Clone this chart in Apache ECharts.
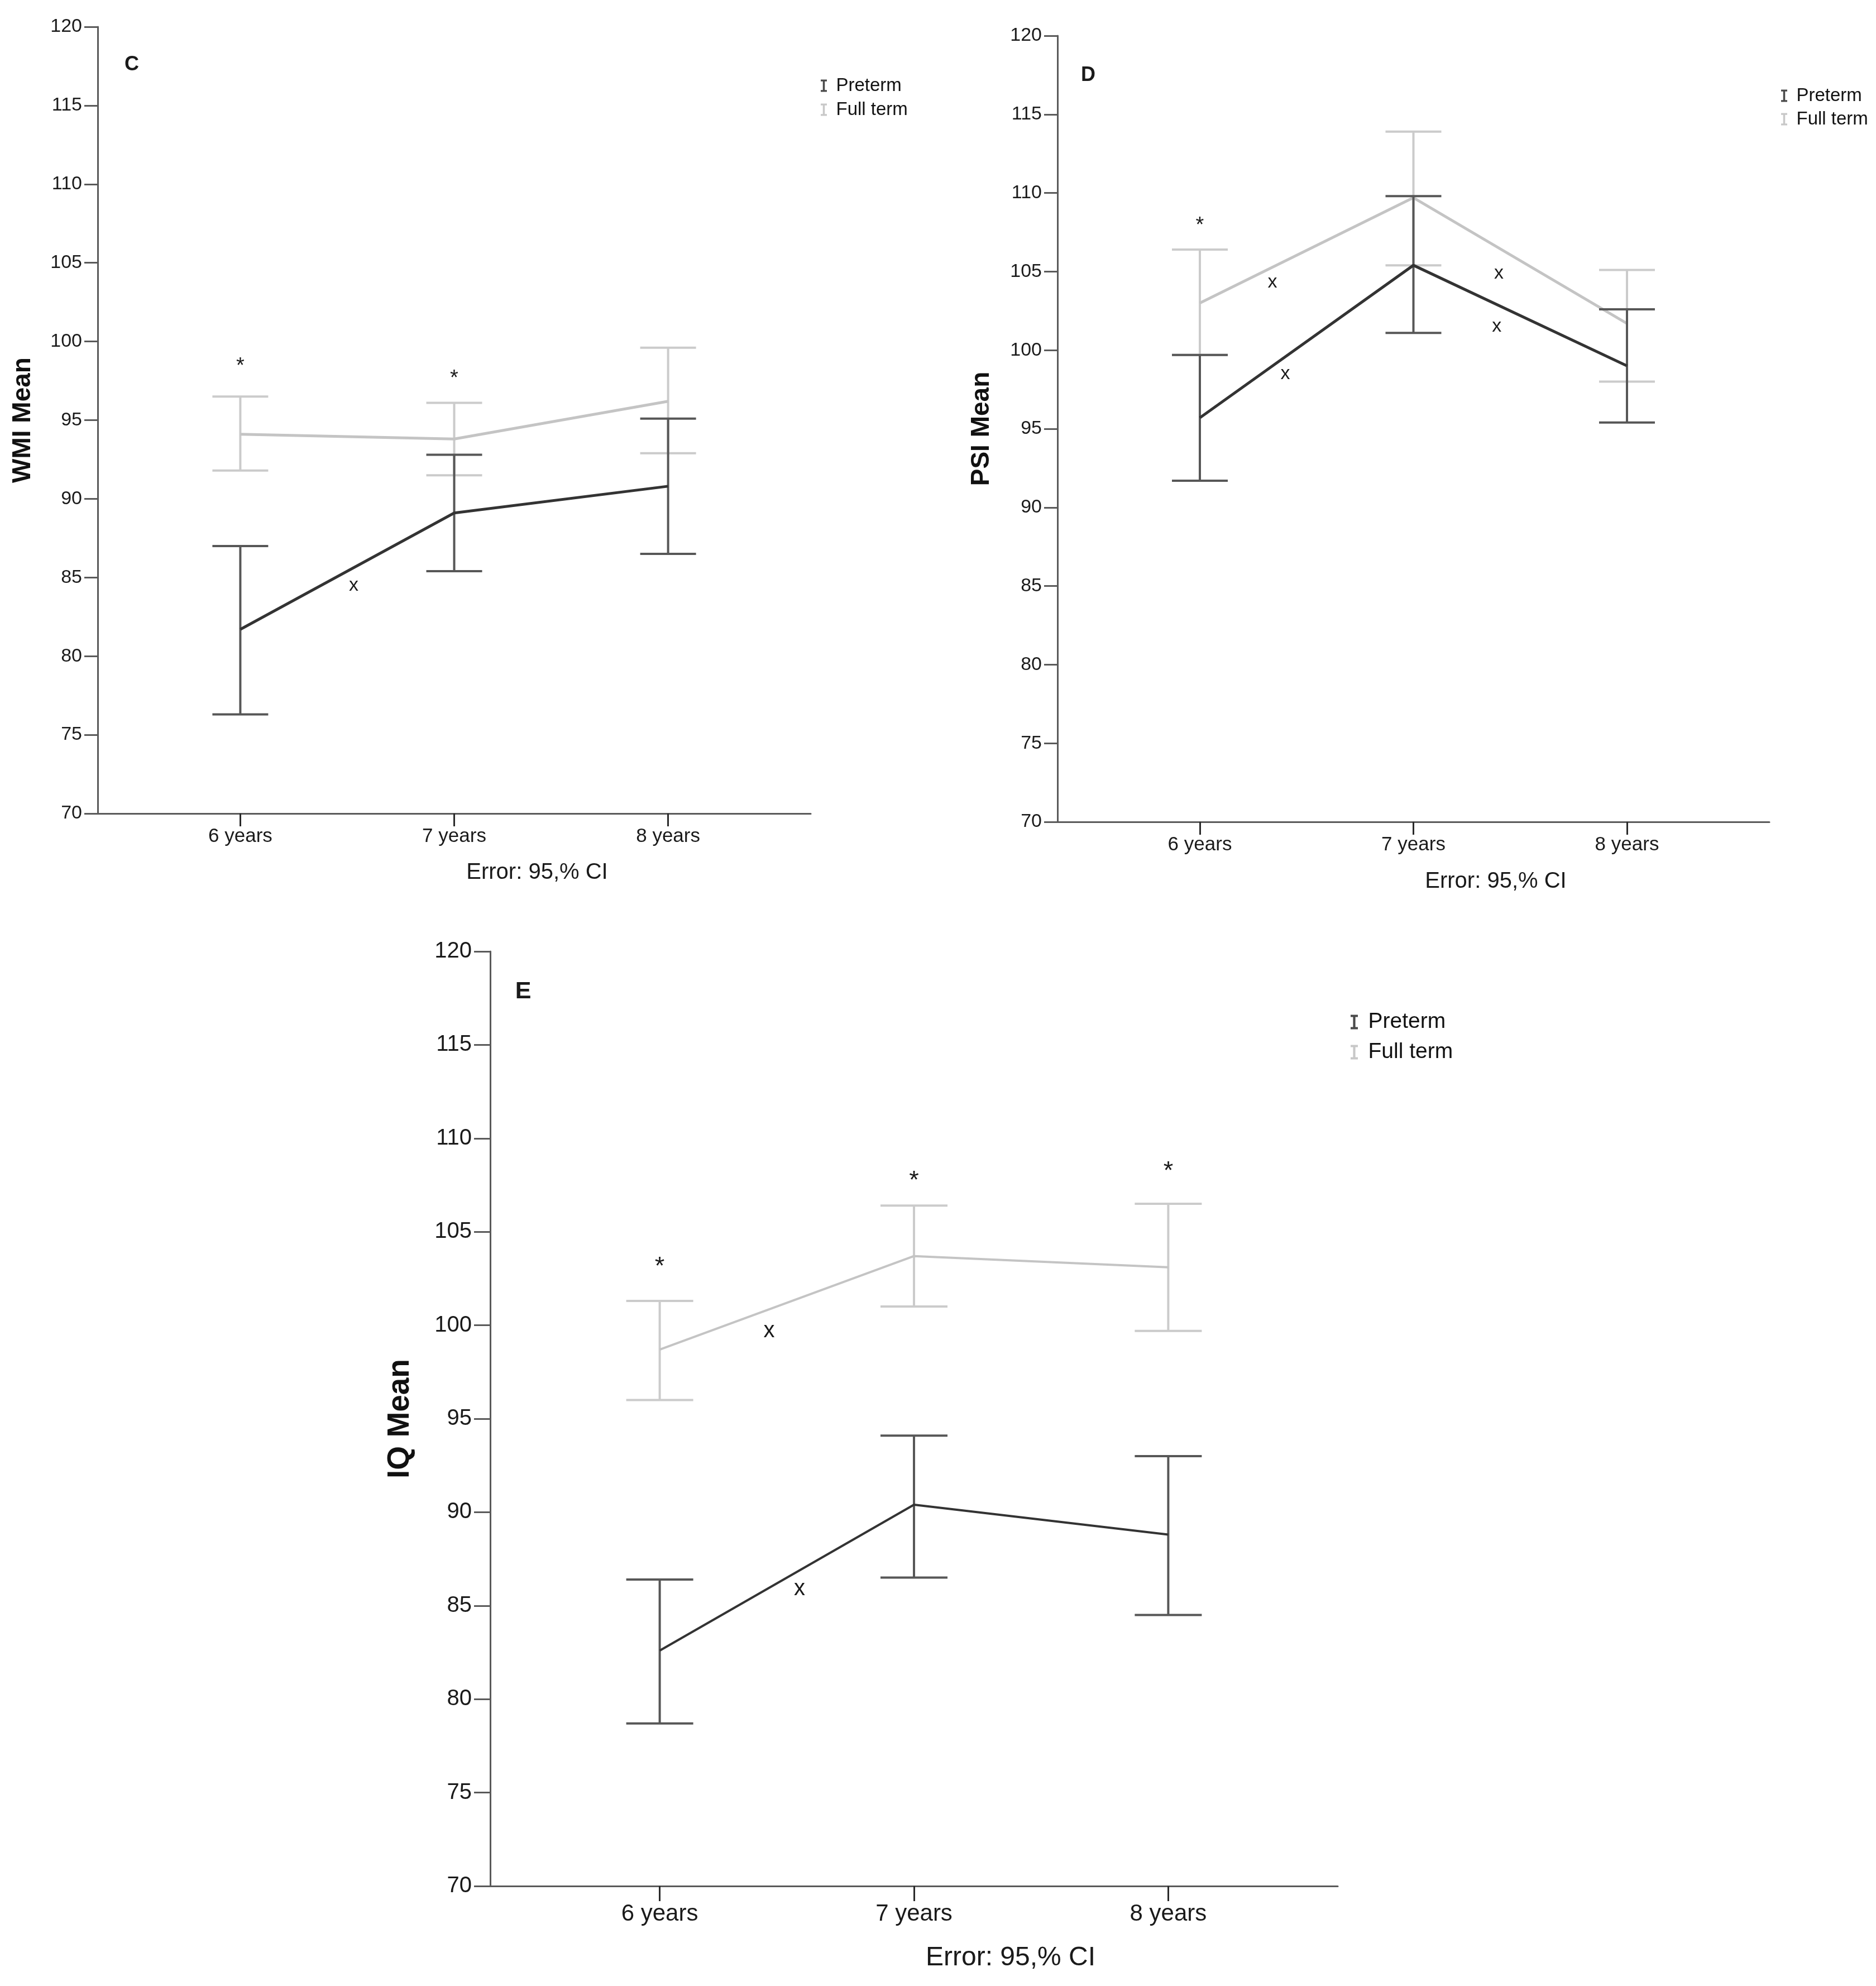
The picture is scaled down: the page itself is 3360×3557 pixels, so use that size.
<!DOCTYPE html>
<html>
<head>
<meta charset="utf-8">
<script src="https://cdn.jsdelivr.net/npm/echarts@6/dist/echarts.min.js"></script>
<style>
html,body{margin:0;padding:0;background:#fff;}
#chart{width:3360px;height:3557px;}
</style>
</head>
<body>
<div id="chart"></div>
<script>
// ---------- DATA ----------
const ages = [6, 7, 8];
const ageLabels = ['6 years', '7 years', '8 years'];
const groupNames = ['Preterm', 'Full term'];

// Panel C : WMI
const wmiFullMean = [94.1, 93.8, 96.2];
const wmiFullLow  = [91.8, 91.5, 92.9];
const wmiFullHigh = [96.5, 96.1, 99.6];
const wmiPreMean  = [81.7, 89.1, 90.8];
const wmiPreLow   = [76.3, 85.4, 86.5];
const wmiPreHigh  = [87.0, 92.8, 95.1];
const wmiStars    = [[6, 98.7], [7, 97.9]];
const wmiCross    = [[6.53, 84.5]];

// Panel D : PSI
const psiFullMean = [103.0, 109.7, 101.7];
const psiFullLow  = [99.7, 105.4, 98.0];
const psiFullHigh = [106.4, 113.9, 105.1];
const psiPreMean  = [95.7, 105.4, 99.0];
const psiPreLow   = [91.7, 101.1, 95.4];
const psiPreHigh  = [99.7, 109.8, 102.6];
const psiStars    = [[6, 108.2]];
const psiCross    = [[6.34, 104.3], [6.40, 98.5], [7.40, 104.9], [7.39, 101.5]];

// Panel E : IQ
const iqFullMean = [98.7, 103.7, 103.1];
const iqFullLow  = [96.0, 101.0, 99.7];
const iqFullHigh = [101.3, 106.4, 106.5];
const iqPreMean  = [82.6, 90.4, 88.8];
const iqPreLow   = [78.7, 86.5, 84.5];
const iqPreHigh  = [86.4, 94.1, 93.0];
const iqStars    = [[6, 103.4], [7, 108.0], [8, 108.5]];
const iqCross    = [[6.43, 99.7], [6.55, 85.9]];

// ---------- STYLE ----------
const FONT = '"Liberation Sans", Arial, sans-serif';
const PRE_LINE = '#333333', PRE_BAR = '#575757';
const FULL_LINE = '#c4c4c4', FULL_BAR = '#cbcbcb';
const AXIS = '#5a5a5a';
const ibeam = 'path://M0,0 H10 V3 H6.6 V17 H10 V20 H0 V17 H3.4 V3 H0 Z';

const panels = [
  { letter: 'C', yName: 'WMI Mean',
    fullMean: wmiFullMean, fullLow: wmiFullLow, fullHigh: wmiFullHigh,
    preMean: wmiPreMean, preLow: wmiPreLow, preHigh: wmiPreHigh,
    stars: wmiStars, cross: wmiCross,
    L: { left: 175, top: 48, width: 1277, height: 1409, s: 1, lw: 5,
         nameGap: 111, letterX: 236, letterY: 116,
         errX: 962, errY: 1563, legLeft: 1465, legTop: 132, legGap: 10 } },
  { letter: 'D', yName: 'PSI Mean',
    fullMean: psiFullMean, fullLow: psiFullLow, fullHigh: psiFullHigh,
    preMean: psiPreMean, preLow: psiPreLow, preHigh: psiPreHigh,
    stars: psiStars, cross: psiCross,
    L: { left: 1894, top: 64, width: 1275, height: 1408, s: 1, lw: 5,
         nameGap: 113, letterX: 1949, letterY: 135,
         errX: 2679, errY: 1579, legLeft: 3185, legTop: 150, legGap: 9 } },
  { letter: 'E', yName: 'IQ Mean',
    fullMean: iqFullMean, fullLow: iqFullLow, fullHigh: iqFullHigh,
    preMean: iqPreMean, preLow: iqPreLow, preHigh: iqPreHigh,
    stars: iqStars, cross: iqCross,
    L: { left: 878, top: 1704, width: 1518, height: 1674, s: 1.19, lw: 4,
         nameGap: 134, letterX: 937, letterY: 1776,
         errX: 1810, errY: 3507, legLeft: 2414, legTop: 1806, legGap: 15 } }
];

function errRender(halfW, color, width) {
  return function (params, api) {
    const x = api.value(0);
    const lo = api.coord([x, api.value(1)]);
    const hi = api.coord([x, api.value(2)]);
    const st = { stroke: color, lineWidth: width };
    return { type: 'group', children: [
      { type: 'line', shape: { x1: hi[0], y1: hi[1], x2: lo[0], y2: lo[1] }, style: st },
      { type: 'line', shape: { x1: hi[0] - halfW, y1: hi[1], x2: hi[0] + halfW, y2: hi[1] }, style: st },
      { type: 'line', shape: { x1: lo[0] - halfW, y1: lo[1], x2: lo[0] + halfW, y2: lo[1] }, style: st }
    ]};
  };
}
function textRender(txt, size, dy) {
  return function (params, api) {
    const p = api.coord([api.value(0), api.value(1)]);
    return { type: 'text', x: p[0], y: p[1] + dy,
      style: { text: txt, fontSize: size, fontFamily: FONT, fill: '#1a1a1a',
               align: 'center', verticalAlign: 'middle' } };
  };
}

const option = { animation: false, backgroundColor: '#fff',
  grid: [], xAxis: [], yAxis: [], series: [], legend: [], graphic: [] };

panels.forEach((P, i) => {
  const L = P.L, s = L.s;
  option.grid.push({ left: L.left, top: L.top, width: L.width, height: L.height });
  option.xAxis.push({
    type: 'value', gridIndex: i, min: 6 - 2 / 3, max: 8 + 2 / 3,
    splitLine: { show: false },
    axisLine: { show: true, lineStyle: { color: AXIS, width: 3 } },
    axisTick: { show: true, customValues: ages, length: Math.round(23 * s), lineStyle: { color: '#2a2a2a', width: 3 } },
    axisLabel: { show: true, customValues: ages, formatter: v => ageLabels[ages.indexOf(v)],
      fontSize: Math.round(35 * s), fontFamily: FONT, color: '#1a1a1a', margin: Math.round(24 * s) }
  });
  option.yAxis.push({
    type: 'value', gridIndex: i, min: 70, max: 120, interval: 5,
    name: P.yName, nameLocation: 'middle', nameGap: L.nameGap, nameRotate: 90,
    nameTextStyle: { fontSize: Math.round(46 * s), fontWeight: 'bold', fontFamily: FONT, color: '#111' },
    splitLine: { show: false },
    axisLine: { show: true, lineStyle: { color: AXIS, width: 3 } },
    axisTick: { show: true, length: Math.round(24 * s), lineStyle: { color: AXIS, width: 3 } },
    axisLabel: { fontSize: Math.round(34 * s), fontFamily: FONT, color: '#1a1a1a', margin: Math.round(28 * s) }
  });
  option.series.push(
    { name: 'Full term', type: 'custom', xAxisIndex: i, yAxisIndex: i,
      renderItem: errRender(Math.round(50 * s), FULL_BAR, 4),
      encode: { x: 0, y: [1, 2] },
      data: ages.map((a, k) => [a, P.fullLow[k], P.fullHigh[k]]), z: 2 },
    { name: 'Full term', type: 'line', xAxisIndex: i, yAxisIndex: i, symbol: 'none',
      color: FULL_LINE, lineStyle: { color: FULL_LINE, width: L.lw },
      data: ages.map((a, k) => [a, P.fullMean[k]]), z: 3 },
    { name: 'Preterm', type: 'custom', xAxisIndex: i, yAxisIndex: i,
      renderItem: errRender(Math.round(50 * s), PRE_BAR, 4),
      encode: { x: 0, y: [1, 2] },
      data: ages.map((a, k) => [a, P.preLow[k], P.preHigh[k]]), z: 4 },
    { name: 'Preterm', type: 'line', xAxisIndex: i, yAxisIndex: i, symbol: 'none',
      color: PRE_LINE, lineStyle: { color: PRE_LINE, width: L.lw },
      data: ages.map((a, k) => [a, P.preMean[k]]), z: 5 },
    { type: 'custom', xAxisIndex: i, yAxisIndex: i, silent: true,
      renderItem: textRender('*', Math.round(38 * s), Math.round(8 * s)),
      encode: { x: 0, y: 1 }, data: P.stars, z: 6 },
    { type: 'custom', xAxisIndex: i, yAxisIndex: i, silent: true,
      renderItem: textRender('x', Math.round(34 * s), 0),
      encode: { x: 0, y: 1 }, data: P.cross, z: 6 }
  );
  option.legend.push({
    orient: 'vertical', left: L.legLeft, top: L.legTop, itemGap: L.legGap,
    itemWidth: Math.round(34 * s), itemHeight: Math.round(22 * s), icon: ibeam,
    selectedMode: false,
    textStyle: { fontSize: Math.round(33 * s), fontFamily: FONT, color: '#111', lineHeight: Math.round(30 * s) },
    data: [
      { name: groupNames[0], itemStyle: { color: '#4a4a4a' } },
      { name: groupNames[1], itemStyle: { color: '#c8c8c8' } }
    ]
  });
  option.graphic.push(
    { type: 'text', x: L.letterX, y: L.letterY,
      style: { text: P.letter, fontSize: Math.round(36 * s), fontWeight: 'bold', fontFamily: FONT,
               fill: '#1a1a1a', align: 'center', verticalAlign: 'middle' } },
    { type: 'text', x: L.errX, y: L.errY,
      style: { text: 'Error: 95,% CI', fontSize: Math.round(40 * s), fontFamily: FONT,
               fill: '#1a1a1a', align: 'center', verticalAlign: 'middle' } }
  );
});

const chart = echarts.init(document.getElementById('chart'), null, { renderer: 'canvas' });
chart.setOption(option);
</script>
</body>
</html>
